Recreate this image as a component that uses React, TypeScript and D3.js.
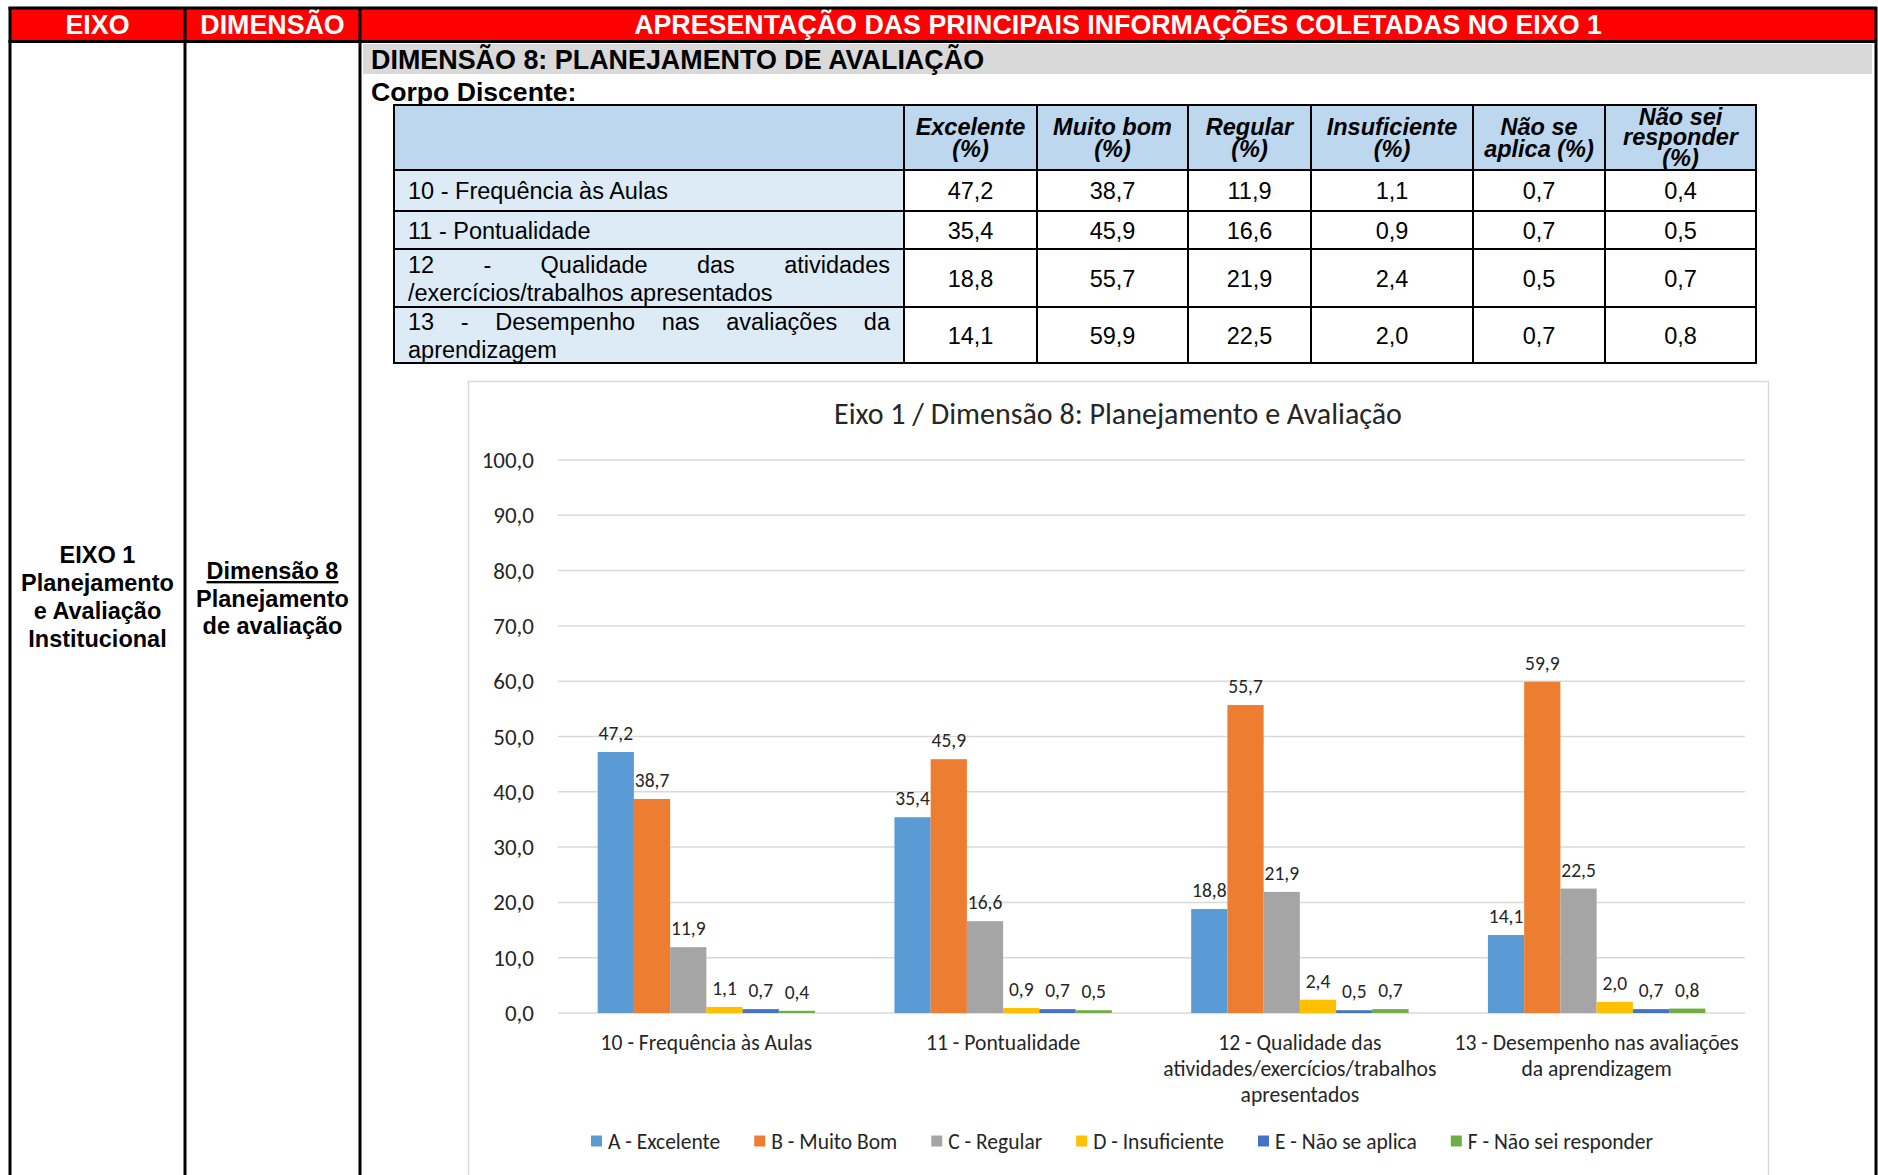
import React from "react";
import * as d3 from "d3";

// ---------- DATA ----------
const categories = [
  "10 - Frequência às Aulas",
  "11 - Pontualidade",
  "12 - Qualidade das atividades/exercícios/trabalhos apresentados",
  "13 - Desempenho nas avaliações da aprendizagem",
];
const categoryLines = [
  ["10 - Frequência às Aulas"],
  ["11 - Pontualidade"],
  ["12 - Qualidade das", "atividades/exercícios/trabalhos", "apresentados"],
  ["13 - Desempenho nas avaliações", "da aprendizagem"],
];
const seriesNames = [
  "A - Excelente",
  "B - Muito Bom",
  "C - Regular",
  "D - Insuficiente",
  "E - Não se aplica",
  "F - Não sei responder",
];
const excelente = [47.2, 35.4, 18.8, 14.1];
const muitoBom = [38.7, 45.9, 55.7, 59.9];
const regular = [11.9, 16.6, 21.9, 22.5];
const insuficiente = [1.1, 0.9, 2.4, 2.0];
const naoSeAplica = [0.7, 0.7, 0.5, 0.7];
const naoSeiResponder = [0.4, 0.5, 0.7, 0.8];
const seriesValues = [excelente, muitoBom, regular, insuficiente, naoSeAplica, naoSeiResponder];
const seriesColors = ["#5B9BD5", "#ED7D31", "#A5A5A5", "#FFC000", "#4472C4", "#70AD47"];
const yTicks = [0, 10, 20, 30, 40, 50, 60, 70, 80, 90, 100];

const tableHeaders = [
  ["Excelente", "(%)"],
  ["Muito bom", "(%)"],
  ["Regular", "(%)"],
  ["Insuficiente", "(%)"],
  ["Não se", "aplica (%)"],
  ["Não sei", "responder", "(%)"],
];
const tableRowLines = [
  ["10 - Frequência às Aulas"],
  ["11 - Pontualidade"],
  ["12 - Qualidade das atividades", "/exercícios/trabalhos apresentados"],
  ["13 - Desempenho nas avaliações da", "aprendizagem"],
];

const headerTitles = ["EIXO", "DIMENSÃO", "APRESENTAÇÃO DAS PRINCIPAIS INFORMAÇÕES COLETADAS NO EIXO 1"];
const sectionTitle = "DIMENSÃO 8: PLANEJAMENTO DE AVALIAÇÃO";
const subTitle = "Corpo Discente:";
const eixoLines = ["EIXO 1", "Planejamento", "e Avaliação", "Institucional"];
const dimLines = ["Dimensão 8", "Planejamento", "de avaliação"];
const chartTitle = "Eixo 1 / Dimensão 8: Planejamento e Avaliação";

// ---------- HELPERS ----------
const ARIAL = "'Liberation Sans', Arial, Helvetica, sans-serif";
const CAL = "Carlito, Calibri, Lato, 'Open Sans', sans-serif";
const CHART_INK = "#262626";
const fmt = (v: number) => d3.format(".1f")(v).replace(".", ",");

let _ctx: CanvasRenderingContext2D | null = null;
function measure(text: string, font: string): number {
  if (!_ctx) _ctx = document.createElement("canvas").getContext("2d");
  _ctx!.font = font;
  return _ctx!.measureText(text).width;
}

function JustifiedLine({ text, x0, x1, y, size }: any) {
  const words = text.split(" ");
  const font = `${size}px 'Liberation Sans', Arial, sans-serif`;
  const widths = words.map((w: string) => measure(w, font));
  const total = widths.reduce((a: number, b: number) => a + b, 0);
  const gap = (x1 - x0 - total) / (words.length - 1);
  let cx = x0;
  return (
    <g>
      {words.map((w: string, i: number) => {
        const el = (
          <text key={i} x={cx} y={y} fontFamily={ARIAL} fontSize={size} fill="#000">
            {w}
          </text>
        );
        cx += widths[i] + gap;
        return el;
      })}
    </g>
  );
}

export default function App() {
  const W = 1878;
  const H = 1175;

  // table geometry
  const colX = [394, 904, 1037, 1188, 1311, 1473, 1605, 1756];
  const rowY = [105, 170, 211, 249, 307, 363];

  // chart geometry
  const plotL = 558, plotR = 1745, plotT = 460, plotB = 1013;
  const x0 = d3.scaleBand().domain(categories).range([plotL, plotR]).paddingInner(0).paddingOuter(0);
  const x1 = d3
    .scaleBand()
    .domain(seriesNames)
    .range([0, x0.bandwidth()])
    .paddingInner(0)
    .paddingOuter(1.095);
  const y = d3.scaleLinear().domain([0, 100]).range([plotB, plotT]);

  // legend layout
  const legSize = 21.5;
  const legFont = `${legSize}px ${CAL}`;
  const marker = 11;
  const legGap = 34;
  const itemW = seriesNames.map((s) => marker + 6 + measure(s, legFont));
  const legTotal = itemW.reduce((a, b) => a + b, 0) + legGap * (seriesNames.length - 1);
  let legX = 1122 - legTotal / 2;
  const legPos = itemW.map((w) => {
    const p = legX;
    legX += w + legGap;
    return p;
  });

  const tableLineW = 2;
  const hdrSize = 26.8;

  return (
    <svg
      width={W}
      height={H}
      viewBox={`0 0 ${W} ${H}`}
      style={{ position: "absolute", left: 0, top: 0, display: "block", background: "#fff" }}
    >
      <rect x={0} y={0} width={W} height={H} fill="#fff" />

      {/* red header */}
      <rect x={10} y={8} width={1865} height={33} fill="#FF0000" />
      <text x={97.5} y={34} textAnchor="middle" fontFamily={ARIAL} fontWeight="bold" fontSize={hdrSize} fill="#fff">
        {headerTitles[0]}
      </text>
      <text x={272.5} y={34} textAnchor="middle" fontFamily={ARIAL} fontWeight="bold" fontSize={hdrSize} fill="#fff">
        {headerTitles[1]}
      </text>
      <text x={1118} y={34} textAnchor="middle" fontFamily={ARIAL} fontWeight="bold" fontSize={hdrSize} fill="#fff">
        {headerTitles[2]}
      </text>
      <line x1={8.5} x2={1877} y1={8} y2={8} stroke="#000" strokeWidth={3} />
      <line x1={8.5} x2={1877} y1={41.5} y2={41.5} stroke="#000" strokeWidth={3} />
      {[10, 185, 360, 1876].map((x) => (
        <line key={x} x1={x} x2={x} y1={7} y2={H} stroke="#000" strokeWidth={3} />
      ))}

      {/* gray section band */}
      <rect x={363} y={44} width={1509} height={30} fill="#D9D9D9" />
      <text x={371} y={68.5} fontFamily={ARIAL} fontWeight="bold" fontSize={26.9} fill="#000">
        {sectionTitle}
      </text>
      <text x={371} y={100.5} fontFamily={ARIAL} fontWeight="bold" fontSize={26.6} fill="#000">
        {subTitle}
      </text>

      {/* left columns */}
      {eixoLines.map((t, i) => (
        <text key={i} x={97.5} y={563 + i * 28} textAnchor="middle" fontFamily={ARIAL} fontWeight="bold" fontSize={23.5} fill="#000">
          {t}
        </text>
      ))}
      {dimLines.map((t, i) => (
        <text
          key={i}
          x={272.5}
          y={579 + i * 27.5}
          textAnchor="middle"
          fontFamily={ARIAL}
          fontWeight="bold"
          fontSize={23.5}
          fill="#000"
          textDecoration={i === 0 ? "underline" : undefined}
        >
          {t}
        </text>
      ))}

      {/* table */}
      <rect x={colX[0]} y={rowY[0]} width={colX[7] - colX[0]} height={rowY[1] - rowY[0]} fill="#BDD7EE" />
      <rect x={colX[0]} y={rowY[1]} width={colX[1] - colX[0]} height={rowY[5] - rowY[1]} fill="#DDEBF7" />
      {tableHeaders.map((lines, c) => {
        const cx = (colX[c + 1] + colX[c + 2]) / 2;
        const base = lines.length === 3 ? [125, 145, 165.5] : [134.5, 156.5];
        return (
          <g key={c}>
            {lines.map((t, k) => (
              <text
                key={k}
                x={cx}
                y={base[k]}
                textAnchor="middle"
                fontFamily={ARIAL}
                fontWeight="bold"
                fontStyle="italic"
                fontSize={23.5}
                fill="#000"
              >
                {t}
              </text>
            ))}
          </g>
        );
      })}
      {tableRowLines.map((lines, r) => {
        const top = rowY[r + 1];
        const bot = rowY[r + 2];
        const mid = (top + bot) / 2;
        const vals = seriesValues.map((s) => s[r]);
        return (
          <g key={r}>
            {lines.length === 1 ? (
              <text x={408} y={mid + 8.5} fontFamily={ARIAL} fontSize={23.5} fill="#000">
                {lines[0]}
              </text>
            ) : (
              <g>
                <JustifiedLine text={lines[0]} x0={408} x1={890} y={mid - 5.5} size={23.5} />
                <text x={408} y={mid + 23} fontFamily={ARIAL} fontSize={23.5} fill="#000">
                  {lines[1]}
                </text>
              </g>
            )}
            {vals.map((v, c) => (
              <text
                key={c}
                x={(colX[c + 1] + colX[c + 2]) / 2}
                y={mid + 8.5}
                textAnchor="middle"
                fontFamily={ARIAL}
                fontSize={23.5}
                fill="#000"
              >
                {fmt(v)}
              </text>
            ))}
          </g>
        );
      })}
      {colX.map((x) => (
        <line key={"c" + x} x1={x} x2={x} y1={rowY[0] - 1} y2={rowY[5] + 1} stroke="#000" strokeWidth={tableLineW} />
      ))}
      {rowY.map((yy) => (
        <line key={"r" + yy} x1={colX[0] - 1} x2={colX[7] + 1} y1={yy} y2={yy} stroke="#000" strokeWidth={tableLineW} />
      ))}

      {/* chart box */}
      <rect x={468.5} y={381.5} width={1300} height={820} fill="#fff" stroke="#D9D9D9" strokeWidth={1.5} />
      <text x={1118} y={424} textAnchor="middle" fontFamily={CAL} fontSize={30} fill={CHART_INK}>
        {chartTitle}
      </text>

      {/* gridlines & y ticks */}
      {yTicks.map((t) => (
        <g key={t}>
          <line x1={plotL} x2={plotR} y1={y(t)} y2={y(t)} stroke="#D9D9D9" strokeWidth={1.5} />
          <text x={534} y={y(t) + 8} textAnchor="end" fontFamily={CAL} fontSize={23} fill={CHART_INK}>
            {fmt(t)}
          </text>
        </g>
      ))}

      {/* bars */}
      {categories.map((cat, ci) => (
        <g key={cat} transform={`translate(${x0(cat)},0)`}>
          {seriesNames.map((s, si) => {
            const v = seriesValues[si][ci];
            const bx = x1(s)!;
            return (
              <g key={s}>
                <rect x={bx} y={y(v)} width={x1.bandwidth()} height={y(0) - y(v)} fill={seriesColors[si]} />
                <text
                  x={bx + x1.bandwidth() / 2}
                  y={y(v) - 12}
                  textAnchor="middle"
                  fontFamily={CAL}
                  fontSize={19.5}
                  fill={CHART_INK}
                >
                  {fmt(v)}
                </text>
              </g>
            );
          })}
        </g>
      ))}

      {/* category labels */}
      {categories.map((cat, ci) => (
        <g key={"l" + cat}>
          {categoryLines[ci].map((t, k) => (
            <text
              key={k}
              x={x0(cat)! + x0.bandwidth() / 2}
              y={1050 + k * 26}
              textAnchor="middle"
              fontFamily={CAL}
              fontSize={21.6}
              fill={CHART_INK}
            >
              {t}
            </text>
          ))}
        </g>
      ))}

      {/* legend */}
      {seriesNames.map((s, i) => (
        <g key={"lg" + s} transform={`translate(${legPos[i]},1141)`}>
          <rect x={0} y={-marker / 2} width={marker} height={marker} fill={seriesColors[i]} />
          <text x={marker + 6} y={7.5} fontFamily={CAL} fontSize={legSize} fill={CHART_INK}>
            {s}
          </text>
        </g>
      ))}
    </svg>
  );
}
